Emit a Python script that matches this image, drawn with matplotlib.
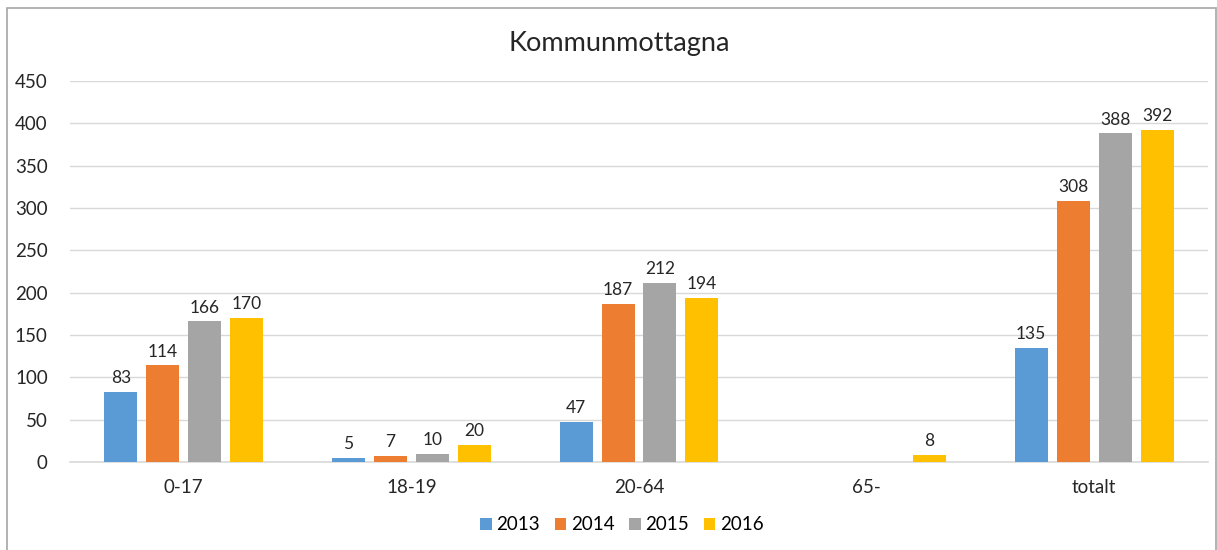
import matplotlib
matplotlib.use("Agg")
import matplotlib.pyplot as plt
from matplotlib.patches import Rectangle
import numpy as np

categories = ["0-17", "18-19", "20-64", "65-", "totalt"]
years = ["2013", "2014", "2015", "2016"]
v2013 = [83, 5, 47, None, 135]
v2014 = [114, 7, 187, None, 308]
v2015 = [166, 10, 212, None, 388]
v2016 = [170, 20, 194, 8, 392]
series = [v2013, v2014, v2015, v2016]
colors = ["#5B9BD5", "#ED7D31", "#A5A5A5", "#FFC000"]
yticks = [0, 50, 100, 150, 200, 250, 300, 350, 400, 450]

plt.rcParams['font.family'] = ['Lato', 'DejaVu Sans']

W, H = 1217, 550
fig = plt.figure(figsize=(W/100, H/100), dpi=100)
ax = fig.add_axes([70/W, 1-462/H, (1208-70)/W, (462-81)/H])

fig.patches.append(Rectangle((7/W, -0.1), (1216-7)/W, 1-8/H+0.1, transform=fig.transFigure,
                             fill=False, edgecolor="#A6A6A6", linewidth=1.2))

x = np.arange(len(categories))
step = 0.1845
width = 0.145
for i, (vals, col, yr) in enumerate(zip(series, colors, years)):
    xs = [xx + (i-1.5)*step for xx, v in zip(x, vals) if v is not None]
    ys = [v for v in vals if v is not None]
    bars = ax.bar(xs, ys, width=width, color=col, label=yr, zorder=3)
    for b, v in zip(bars, ys):
        ax.text(b.get_x()+b.get_width()/2, v + 7, str(v), ha='center', va='bottom',
                fontsize=12.5, color="#262626")

ax.set_xlim(-0.5, 4.5)
ax.set_ylim(0, 450)
ax.set_yticks(yticks)
ax.set_yticklabels([str(t) for t in yticks], fontsize=13.5, color="#262626")
ax.set_xticks(x)
ax.set_xticklabels(categories, fontsize=13.5, color="#262626")
ax.tick_params(axis='both', length=0, pad=12)
ax.tick_params(axis='y', pad=16)
ax.grid(axis='y', color="#D9D9D9", linewidth=1, zorder=0)
for s in ['top', 'right', 'left']:
    ax.spines[s].set_visible(False)
ax.spines['bottom'].set_color("#D9D9D9")
ax.spines['bottom'].set_linewidth(1.2)

fig.text(619/W, 1-44/H, "Kommunmottagna", ha='center', va='center', fontsize=19.5, color="#262626")

leg = fig.legend(loc='center', bbox_to_anchor=(622/W, 1-525/H), ncol=4, frameon=False,
                 fontsize=13.5, handlelength=0.6, handleheight=0.6, handletextpad=0.25, columnspacing=0.8)

fig.savefig("out.png", dpi=100)
